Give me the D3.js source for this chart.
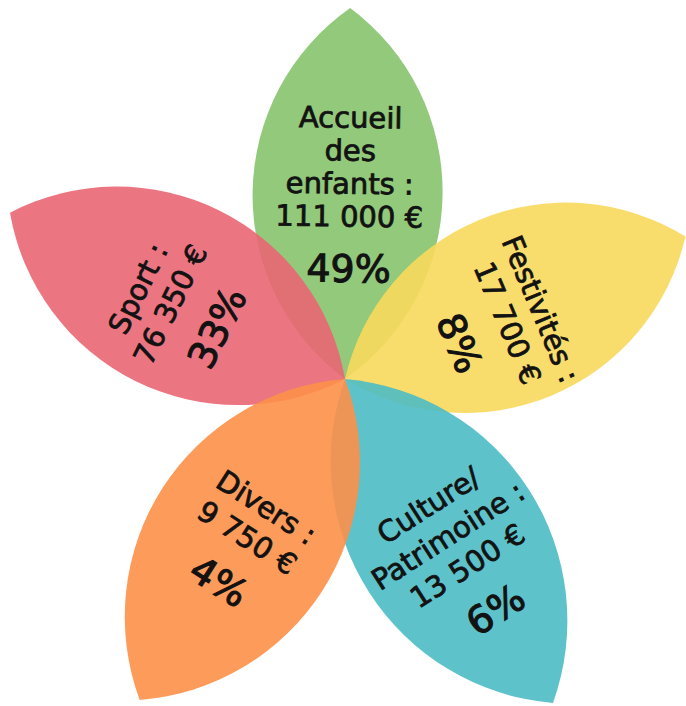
<!DOCTYPE html>
<html>
<head>
<meta charset="utf-8">
<script src="https://cdn.jsdelivr.net/npm/d3@7/dist/d3.min.js"></script>
<style>
  html, body { margin: 0; padding: 0; background: #ffffff; }
  svg { display: block; }
</style>
</head>
<body>
<script>
// ---------- DATA ----------
const categories = ["Accueil des enfants", "Festivités", "Culture/Patrimoine", "Divers", "Sport"];
const categoryLines = [["Accueil", "des", "enfants :"], ["Festivités :"], ["Culture/", "Patrimoine :"], ["Divers :"], ["Sport :"]];
const amounts = [111000, 17700, 13500, 9750, 76350];
const percents = [49, 8, 6, 4, 33];

// ---------- LAYOUT / STYLE ----------
const W = 686, H = 706;
const center = [345, 379];
const petalAngles = [-89.2, -22.7, 57.3, 122.6, 206.4];   // degrees, direction of each petal tip
const petalLengths = [371, 369, 385, 381, 374];
const petalHalfWidth = 95;
const drawOrder = [0, 1, 2, 4, 3];
const colors = ["#93c97c", "#f9dd6c", "#5fc2ca", "#fd9b5b", "#ec7582"];
const alpha = 0.9;
const labelStart = [262, 208, 151, 150, 226];
const lineStep = [33, 36, 36, 36, 36];
const pctGap = 52;
const labelOffset = [2, 11, 2, 3, -11];
const fontFamily = "'DejaVu Sans', sans-serif";
const textSize = 29, pctSize = 38;

const fr = d3.formatLocale({decimal: ",", thousands: "\u00a0", grouping: [3], currency: ["", "\u00a0€"]});
const fmtAmount = fr.format("$,");

// colour as it would need to be under alpha to look like the target on white
function underAlpha(c) {
  const rgb = d3.rgb(c);
  const f = v => Math.max(0, Math.min(255, (v - (1 - alpha) * 255) / alpha));
  return d3.rgb(f(rgb.r), f(rgb.g), f(rgb.b)).formatHex();
}

const svg = d3.select("body").append("svg")
  .attr("width", W).attr("height", H)
  .attr("viewBox", `0 0 ${W} ${H}`);

svg.append("rect").attr("width", W).attr("height", H).attr("fill", "#ffffff");

const idx = d3.range(categories.length);
const angleRad = i => petalAngles[i] * Math.PI / 180;

function petalPath(L, w) {
  const R = (L * L / 4 + w * w) / (2 * w);
  return `M0,0 A${R},${R} 0 0 1 ${L},0 A${R},${R} 0 0 1 0,0 Z`;
}

const petals = svg.append("g").attr("class", "petals");
petals.selectAll("path")
  .data(drawOrder)
  .join("path")
  .attr("d", i => petalPath(petalLengths[i], petalHalfWidth))
  .attr("transform", i => `translate(${center[0]},${center[1]}) rotate(${petalAngles[i]})`)
  .attr("fill", i => underAlpha(colors[i]))
  .attr("fill-opacity", alpha);

// ---------- LABELS ----------
const labels = svg.append("g").attr("class", "labels")
  .attr("font-family", fontFamily)
  .attr("fill", "#121212")
  .attr("text-anchor", "middle");

idx.forEach(i => {
  const th = angleRad(i);
  let rho = petalAngles[i] + 90;
  while (rho > 180) rho -= 360;
  while (rho <= -180) rho += 360;
  if (rho > 90) rho -= 180;
  if (rho < -90) rho += 180;
  const rr = rho * Math.PI / 180;
  const u = [Math.cos(th), Math.sin(th)];
  const v = [Math.cos(rr), Math.sin(rr)];
  const dir = (i === 2 || i === 3) ? 1 : -1;

  const lines = categoryLines[i].map(t => ({text: t, size: textSize}));
  lines.push({text: fmtAmount(amounts[i]), size: textSize});
  const rs = lines.map((d, k) => labelStart[i] + k * lineStep[i] * dir);
  rs.push(rs[rs.length - 1] + pctGap * dir);
  lines.push({text: percents[i] + "%", size: pctSize, pct: true});

  lines.forEach((d, k) => {
    const r = rs[k];
    const x = center[0] + u[0] * r + v[0] * labelOffset[i];
    const y = center[1] + u[1] * r + v[1] * labelOffset[i];
    labels.append("text")
      .attr("transform", `translate(${x},${y}) rotate(${rho})`)
      .attr("y", d.size * 0.729 / 2)
      .attr("font-size", d.size)
      .attr("stroke", "#121212")
      .attr("stroke-width", d.pct ? 1.1 : 0.8)
      .text(d.text);
  });
});
</script>
</body>
</html>
